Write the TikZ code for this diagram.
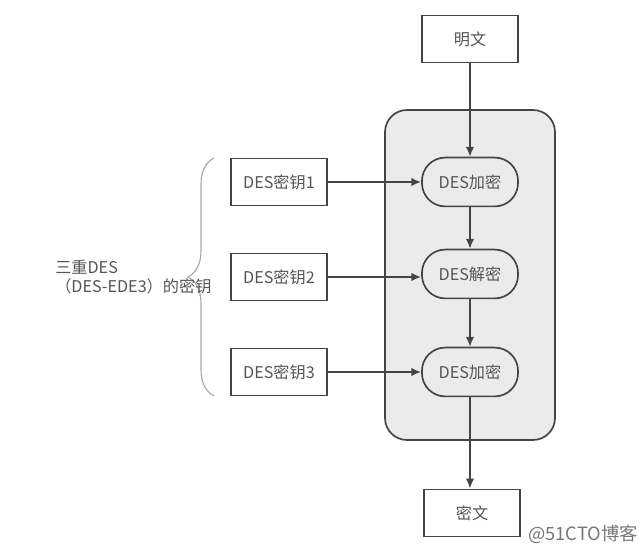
\documentclass[tikz,border=0pt]{standalone}
\usepackage{fontspec}
\setmainfont{Noto Sans CJK SC}
\usepackage{tikz}
\usepackage{xcolor}
\usetikzlibrary{arrows.meta,calc,decorations.pathreplacing}

\definecolor{linegray}{HTML}{444444}
\definecolor{textgray}{HTML}{555555}
\definecolor{panelgray}{HTML}{EBEBEB}

\begin{document}
\begin{tikzpicture}[x=0.025cm,y=-0.025cm,>=Latex,
    font=\fontsize{11.5}{14}\selectfont,
    box/.style={draw=linegray,line width=1.2pt,fill=white,text=textgray,
      minimum width=2.4cm,minimum height=1.18cm,inner sep=0pt},
    desop/.style={box,fill=panelgray,rounded corners=0.58cm,minimum height=1.22cm},
    flow/.style={->,draw=linegray,line width=1.2pt,
      -{Latex[length=7pt,width=6pt]}}]
  \useasboundingbox (0,0) rectangle (640,551);
  % grey panel round the three DES steps
  \draw[draw=linegray,line width=1.2pt,fill=panelgray,rounded corners=0.55cm]
    (385,110) rectangle (555,440);

  \node[box] (plain) at (470,39) {明文};
  \node[box] (cipher) at (472,513) {密文};
  \node[desop] (enc1) at (470,182) {DES加密};
  \node[desop] (dec2) at (470,274) {DES解密};
  \node[desop] (enc3) at (470,372) {DES加密};

  \foreach \i/\y in {1/182,2/277,3/372}{
    \node[box] (key\i) at (279,\y) {DES密钥\i};
  }

  \draw[flow] (plain) -- (enc1);
  \draw[flow] (enc1) -- (dec2);
  \draw[flow] (dec2) -- (enc3);
  \draw[flow] (enc3.south) -- (enc3.south |- cipher.north);
  \draw[flow] (key1) -- (enc1);
  \draw[flow] (key2.east) -- (dec2.west |- key2.east);
  \draw[flow] (key3) -- (enc3);

  % brace and its label
  \coordinate (bracetop) at (214,158);
  \coordinate (bracebot) at (214,396);
  \draw[gray!70,line width=0.8pt,
    decorate,decoration={brace,amplitude=0.65cm}] (bracebot) -- (bracetop);
  \node[anchor=west,align=left,text=textgray,inner sep=0pt] (keylabel) at (55,277)
    {三重DES\\（DES-EDE3）的密钥};

  \node[text=textgray!80,font=\fontsize{13}{15}\selectfont,inner sep=0pt]
    (mark) at (583,534) {@51CTO博客};
\end{tikzpicture}
\end{document}
